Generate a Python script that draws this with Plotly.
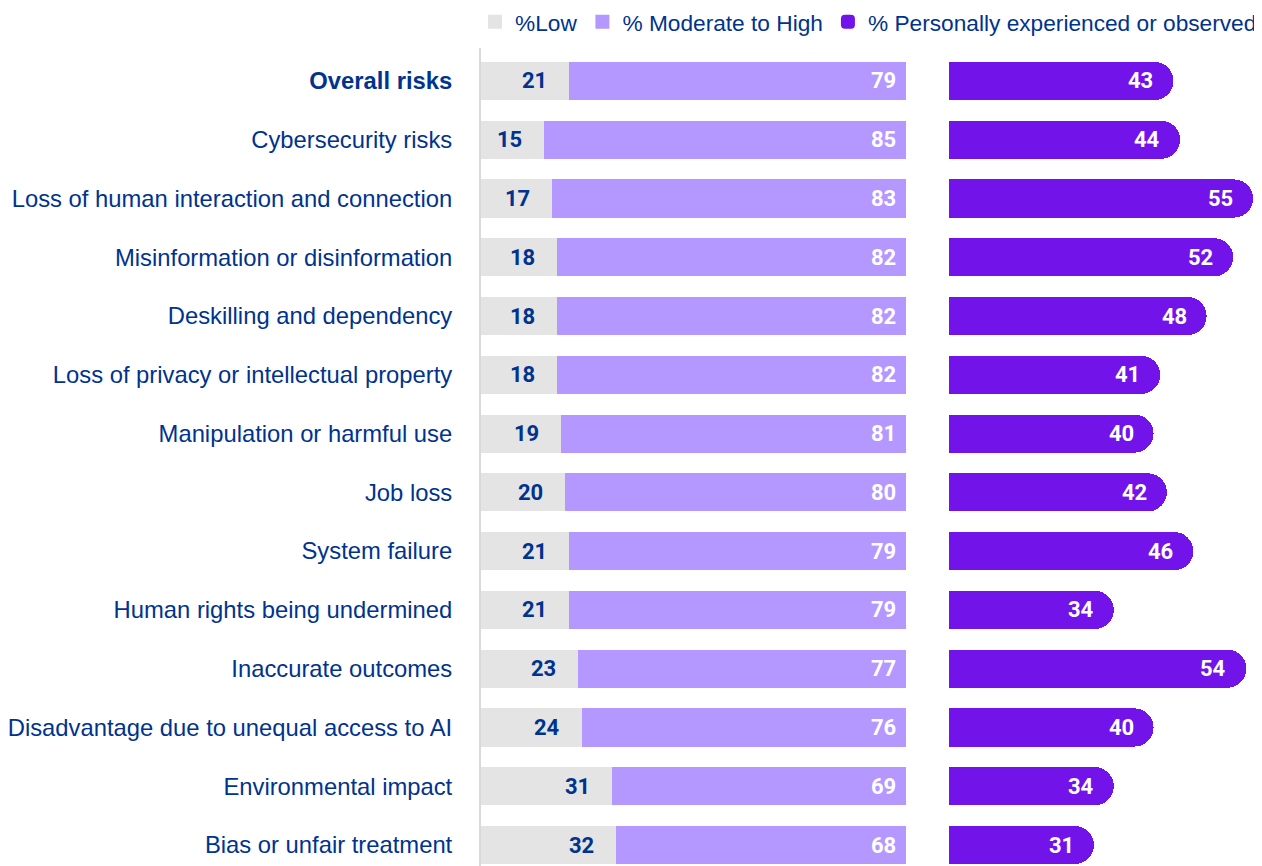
import plotly.graph_objects as go

categories = [
    "Overall risks",
    "Cybersecurity risks",
    "Loss of human interaction and connection",
    "Misinformation or disinformation",
    "Deskilling and dependency",
    "Loss of privacy or intellectual property",
    "Manipulation or harmful use",
    "Job loss",
    "System failure",
    "Human rights being undermined",
    "Inaccurate outcomes",
    "Disadvantage due to unequal access to AI",
    "Environmental impact",
    "Bias or unfair treatment",
]
low = [21, 15, 17, 18, 18, 18, 19, 20, 21, 21, 23, 24, 31, 32]
moderate_high = [79, 85, 83, 82, 82, 82, 81, 80, 79, 79, 77, 76, 69, 68]
experienced = [43, 44, 55, 52, 48, 41, 40, 42, 46, 34, 54, 40, 34, 31]
tick_labels = ["<b>Overall risks</b>"] + categories[1:]
series_names = ["%Low", "% Moderate to High", "% Personally experienced or observed"]

# page body has an 8px margin; figure coords = screen coords - 8
OFF = 8
W, H = 1262 - OFF, 866 - OFF
C_LOW = "#E4E4E4"
C_MOD = "#B497FF"
C_PER = "#7213EA"
NAVY = "#00338D"
LABEL_FONT = "Liberation Sans, Arial, sans-serif"
VALUE_FONT = "Roboto, Arial, sans-serif"
BAR_W = 0.615

fig = go.Figure()
fig.add_trace(go.Bar(y=categories, x=low, orientation="h", name=series_names[0],
                     marker=dict(color=C_LOW, line=dict(width=2, color=C_LOW)), width=BAR_W,
                     xaxis="x", yaxis="y", hoverinfo="skip"))
fig.add_trace(go.Bar(y=categories, x=moderate_high, orientation="h", name=series_names[1],
                     marker=dict(color=C_MOD, line=dict(width=2, color=C_MOD)), width=BAR_W,
                     xaxis="x", yaxis="y", hoverinfo="skip"))
fig.add_trace(go.Bar(y=categories, x=experienced, orientation="h", name=series_names[2],
                     marker=dict(color=C_PER, line=dict(width=2, color=C_PER),
                                 cornerradius="50%"),
                     width=BAR_W, xaxis="x2", yaxis="y", hoverinfo="skip"))

annotations = []
for cat, lo, mo, pe in zip(categories, low, moderate_high, experienced):
    annotations.append(dict(x=lo, y=cat, xref="x", yref="y", text=f"<b>{lo}</b>",
                            showarrow=False, xanchor="right", yanchor="middle", xshift=-21,
                            font=dict(family=VALUE_FONT, size=22, color=NAVY)))
    annotations.append(dict(x=lo + mo, y=cat, xref="x", yref="y", text=f"<b>{mo}</b>",
                            showarrow=False, xanchor="right", yanchor="middle", xshift=-8,
                            font=dict(family=VALUE_FONT, size=22, color="white")))
    annotations.append(dict(x=pe, y=cat, xref="x2", yref="y", text=f"<b>{pe}</b>",
                            showarrow=False, xanchor="right", yanchor="middle", xshift=-17,
                            font=dict(family=VALUE_FONT, size=22, color="white")))

n = len(categories)
fig.update_layout(
    width=W, height=H,
    margin=dict(l=0, r=0, t=48 - OFF, b=0),
    paper_bgcolor="white", plot_bgcolor="white",
    barmode="stack",
    showlegend=True,
    legend=dict(orientation="h", xref="paper", yref="container", x=1.0, xanchor="right",
                y=1 - (22 - OFF) / H, yanchor="middle", traceorder="normal",
                font=dict(family=LABEL_FONT, size=22.7, color=NAVY),
                itemwidth=30, bgcolor="rgba(0,0,0,0)", borderwidth=0),
    xaxis=dict(domain=[(481 - OFF) / W, (906 - OFF) / W], range=[0, 100], visible=False,
               fixedrange=True),
    xaxis2=dict(domain=[(949 - OFF) / W, 1.0], range=[9.3, 56.5], visible=False,
                fixedrange=True),
    yaxis=dict(type="category", categoryorder="array", categoryarray=categories,
               range=[n - 1 + 21 / 58.8, -33 / 58.8],
               tickvals=categories, ticktext=tick_labels,
               tickfont=dict(family=LABEL_FONT, size=23.8, color=NAVY),
               showline=True, linecolor="#D9D9D9", linewidth=2,
               showgrid=False, zeroline=False, ticks="", ticklabelstandoff=22,
               fixedrange=True),
    annotations=annotations,
)

fig.write_html("out.html", config={"displayModeBar": False})
